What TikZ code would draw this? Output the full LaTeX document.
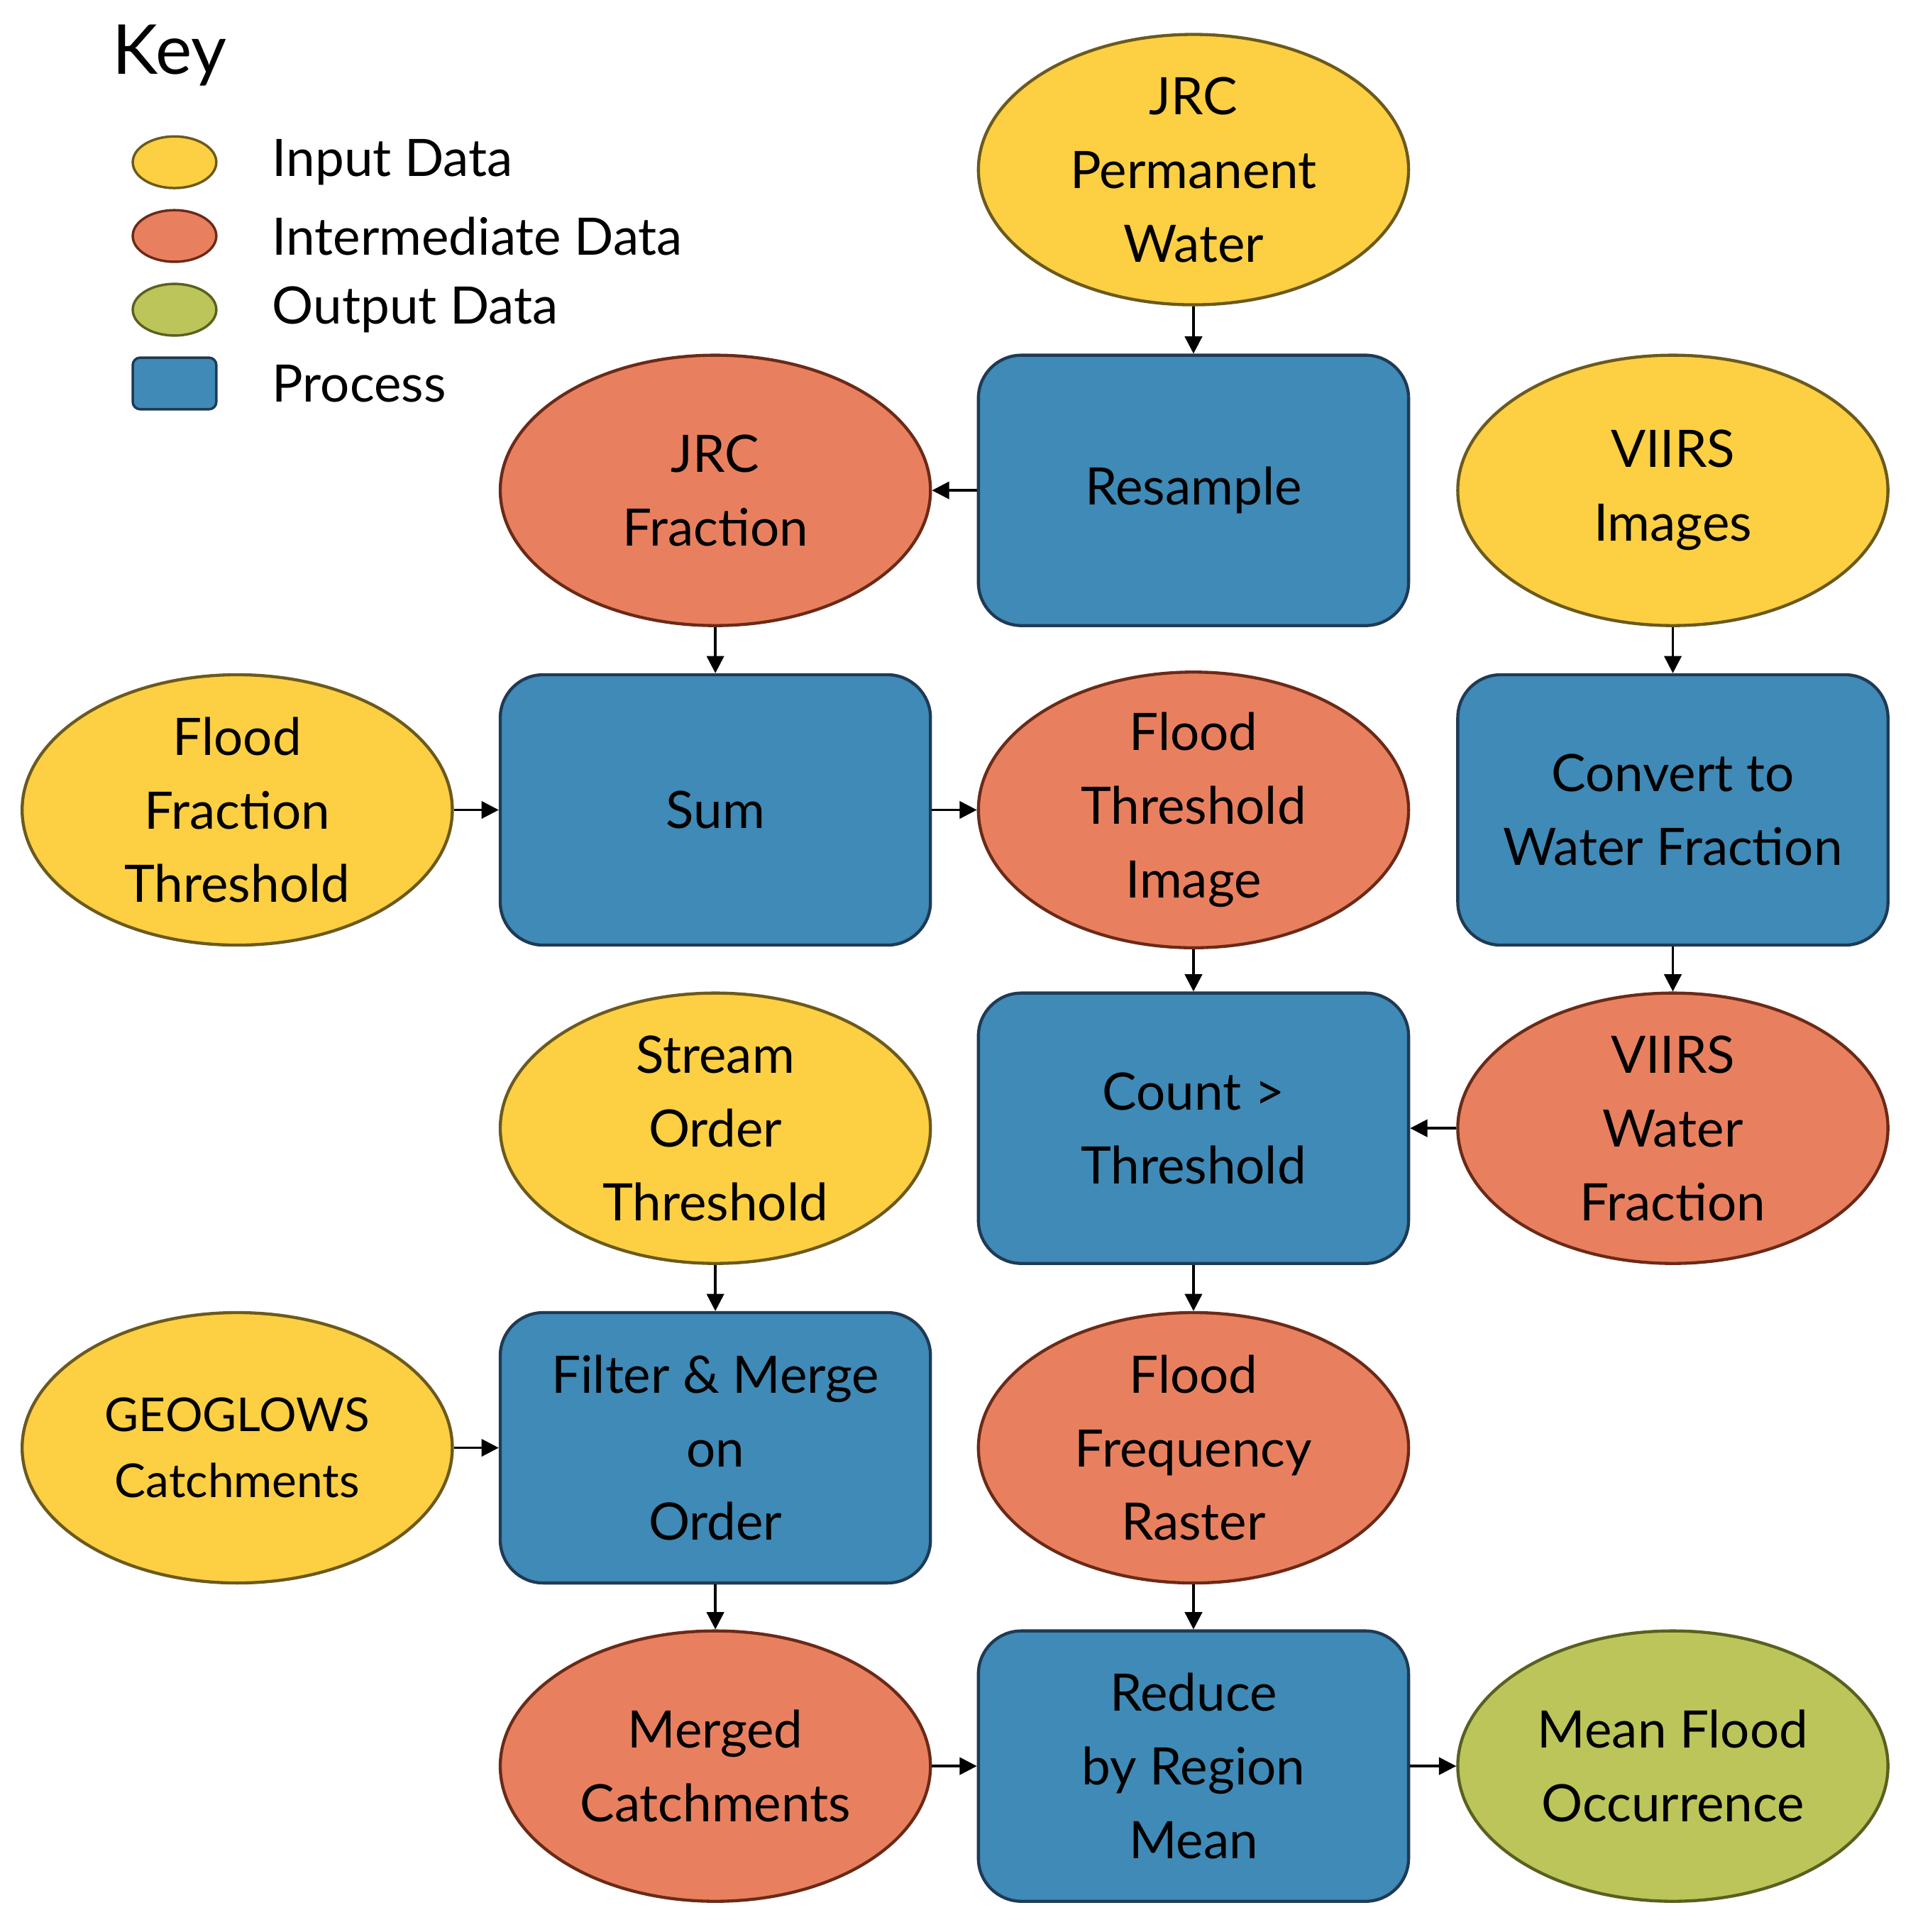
\documentclass[tikz,border=0pt]{standalone}
\usepackage{fontspec}
\setmainfont{Lato}
\usetikzlibrary{shapes.geometric,arrows.meta}
\definecolor{inY}{HTML}{FDCF43}
\definecolor{inO}{HTML}{E8805F}
\definecolor{inG}{HTML}{BCC55A}
\definecolor{prB}{HTML}{3F8AB6}
\definecolor{edY}{HTML}{6B5A1E}
\definecolor{edO}{HTML}{6B2A18}
\definecolor{edG}{HTML}{5A6020}
\definecolor{edB}{HTML}{1F3A55}
\tikzset{
 base/.style={minimum width=350pt,minimum height=220pt,inner sep=0pt,align=center,line width=2.5pt,font=\fontsize{42}{60}\selectfont},
 ydata/.style={base,ellipse,fill=inY,draw=edY},
 odata/.style={base,ellipse,fill=inO,draw=edO},
 gdata/.style={base,ellipse,fill=inG,draw=edG},
 proc/.style={base,rectangle,rounded corners=35pt,fill=prB,draw=edB},
 arr/.style={-{Triangle[length=14pt,width=14pt]},line width=2pt},
 kel/.style={ellipse,minimum width=68pt,minimum height=42pt,inner sep=0pt,line width=2pt},
 klab/.style={anchor=west,font=\fontsize{42}{50}\selectfont}
}
\begin{document}
\begin{tikzpicture}[x=1pt,y=-1pt]
\useasboundingbox (0,0) rectangle (1560,1572);
\node[anchor=west,font=\fontsize{56}{60}\selectfont] (key) at (88,45) {Key};
\node[kel,fill=inY,draw=edY] (k1) at (142,132) {};
\node[kel,fill=inO,draw=edO] (k2) at (142,192) {};
\node[kel,fill=inG,draw=edG] (k3) at (142,252) {};
\node[rectangle,rounded corners=6pt,minimum width=68pt,minimum height=42pt,line width=2pt,fill=prB,draw=edB] (k4) at (142,312) {};
\node[klab] (l1) at (218,132) {Input Data};
\node[klab] (l2) at (218,192) {Intermediate Data};
\node[klab] (l3) at (218,252) {Output Data};
\node[klab] (l4) at (218,312) {Process};

\node[ydata] (jrcp) at (971,138) {JRC\\Permanent\\Water};
\node[proc] (res) at (971,399) {Resample};
\node[odata] (jrcf) at (582,399) {JRC\\Fraction};
\node[ydata] (viirs) at (1361,399) {VIIRS\\Images};
\node[ydata] (fft) at (193,659) {Flood\\Fraction\\Threshold};
\node[proc] (sum) at (582,659) {Sum};
\node[odata] (fti) at (971,659) {Flood\\Threshold\\Image};
\node[proc] (conv) at (1361,659) {Convert to\\Water Fraction};
\node[ydata] (sot) at (582,918) {Stream\\Order\\Threshold};
\node[proc] (cnt) at (971,918) {Count >\\Threshold};
\node[odata] (vwf) at (1361,918) {VIIRS\\Water\\Fraction};
\node[ydata,font=\fontsize{38}{54}\selectfont] (geo) at (193,1178) {GEOGLOWS\\Catchments};
\node[proc] (filt) at (582,1178) {Filter \& Merge\\on\\Order};
\node[odata] (ffr) at (971,1178) {Flood\\Frequency\\Raster};
\node[odata] (mc) at (582,1437) {Merged\\Catchments};
\node[proc] (red) at (971,1437) {Reduce\\by Region\\Mean};
\node[gdata] (mfo) at (1361,1437) {Mean Flood\\Occurrence};

\draw[arr] (jrcp) -- (res);
\draw[arr] (res) -- (jrcf);
\draw[arr] (jrcf) -- (sum);
\draw[arr] (fft) -- (sum);
\draw[arr] (sum) -- (fti);
\draw[arr] (fti) -- (cnt);
\draw[arr] (viirs) -- (conv);
\draw[arr] (conv) -- (vwf);
\draw[arr] (vwf) -- (cnt);
\draw[arr] (cnt) -- (ffr);
\draw[arr] (sot) -- (filt);
\draw[arr] (geo) -- (filt);
\draw[arr] (filt) -- (mc);
\draw[arr] (ffr) -- (red);
\draw[arr] (mc) -- (red);
\draw[arr] (red) -- (mfo);
\end{tikzpicture}
\end{document}
